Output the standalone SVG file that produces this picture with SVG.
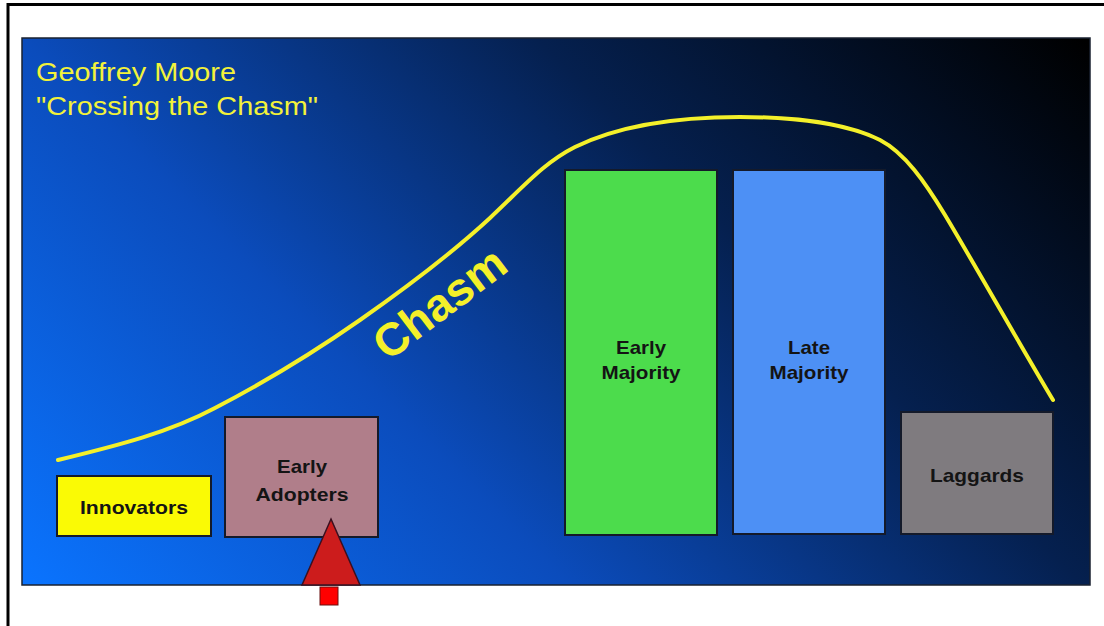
<svg xmlns="http://www.w3.org/2000/svg" width="1104" height="626" viewBox="0 0 1104 626">
<defs>
<linearGradient id="bg" gradientUnits="userSpaceOnUse" x1="22" y1="585" x2="826" y2="-219">
<stop offset="0" stop-color="#0a74ff"/>
<stop offset="0.34" stop-color="#0b4cbc"/>
<stop offset="0.66" stop-color="#05204f"/>
<stop offset="1" stop-color="#000000"/>
</linearGradient>
<style>
.box{stroke:#141a2a;stroke-width:2}
.lbl{font-family:"Liberation Sans",Arial,sans-serif;font-weight:bold;font-size:19px;fill:#141414;text-anchor:middle}
.title{font-family:"Liberation Sans",Arial,sans-serif;font-size:25px;fill:#f2f23a}
</style>
</defs>
<rect x="0" y="0" width="1104" height="626" fill="#ffffff"/>
<line x1="7" y1="4.5" x2="1104" y2="4.5" stroke="#000" stroke-width="3"/>
<line x1="8" y1="3" x2="8" y2="626" stroke="#000" stroke-width="3"/>
<rect x="22" y="38" width="1068" height="547" fill="url(#bg)" stroke="#1a2230" stroke-width="1.5"/>
<text class="title" x="36" y="81" textLength="200" lengthAdjust="spacingAndGlyphs">Geoffrey Moore</text>
<text class="title" x="36" y="115" textLength="282" lengthAdjust="spacingAndGlyphs">"Crossing the Chasm"</text>
<g id="connectors">
<path d="M58,460 C120,445 170,432 215,408 C265,382 320,348 360,320 C410,285 450,255 490,218 C525,185 545,162 575,147 C620,125 680,117 740,117 C800,117 850,125 880,140 C905,153 925,182 945,215 C975,265 1020,345 1053,400" fill="none" stroke="#f4f02a" stroke-width="4" stroke-linecap="round"/>
<text x="0" y="0" transform="translate(388,362) rotate(-37)" font-family="'Liberation Sans',Arial,sans-serif" font-weight="bold" font-size="46" fill="#f4f02a">Chasm</text>
</g>
<g id="innovators">
<rect class="box" x="57" y="476" width="154" height="60" fill="#fafa05"/>
<text class="lbl" x="134" y="514" textLength="108" lengthAdjust="spacingAndGlyphs">Innovators</text>
</g>
<g id="early-adopters">
<rect class="box" x="225" y="417" width="153" height="120" fill="#b07e8a"/>
<text class="lbl" x="302" y="473" textLength="50" lengthAdjust="spacingAndGlyphs">Early</text>
<text class="lbl" x="302" y="501" textLength="93" lengthAdjust="spacingAndGlyphs">Adopters</text>
</g>
<g id="early-majority">
<rect class="box" x="565" y="170" width="152" height="365" fill="#4cdc4c"/>
<text class="lbl" x="641" y="354" textLength="50" lengthAdjust="spacingAndGlyphs">Early</text>
<text class="lbl" x="641" y="379" textLength="79" lengthAdjust="spacingAndGlyphs">Majority</text>
</g>
<g id="late-majority">
<rect class="box" x="733" y="170" width="152" height="364" fill="#4d90f5"/>
<text class="lbl" x="809" y="354" textLength="42" lengthAdjust="spacingAndGlyphs">Late</text>
<text class="lbl" x="809" y="379" textLength="79" lengthAdjust="spacingAndGlyphs">Majority</text>
</g>
<g id="laggards">
<rect class="box" x="901" y="412" width="152" height="122" fill="#7f7b7f"/>
<text class="lbl" x="977" y="482" textLength="94" lengthAdjust="spacingAndGlyphs">Laggards</text>
</g>
<g id="pointer">
<polygon points="331,519 360,585 302,585" fill="#cc1c1c" stroke="#3a1020" stroke-width="1.5"/>
<rect x="320" y="587" width="18" height="18" fill="#ff0000" stroke="#6a1010" stroke-width="1"/>
</g>
</svg>
